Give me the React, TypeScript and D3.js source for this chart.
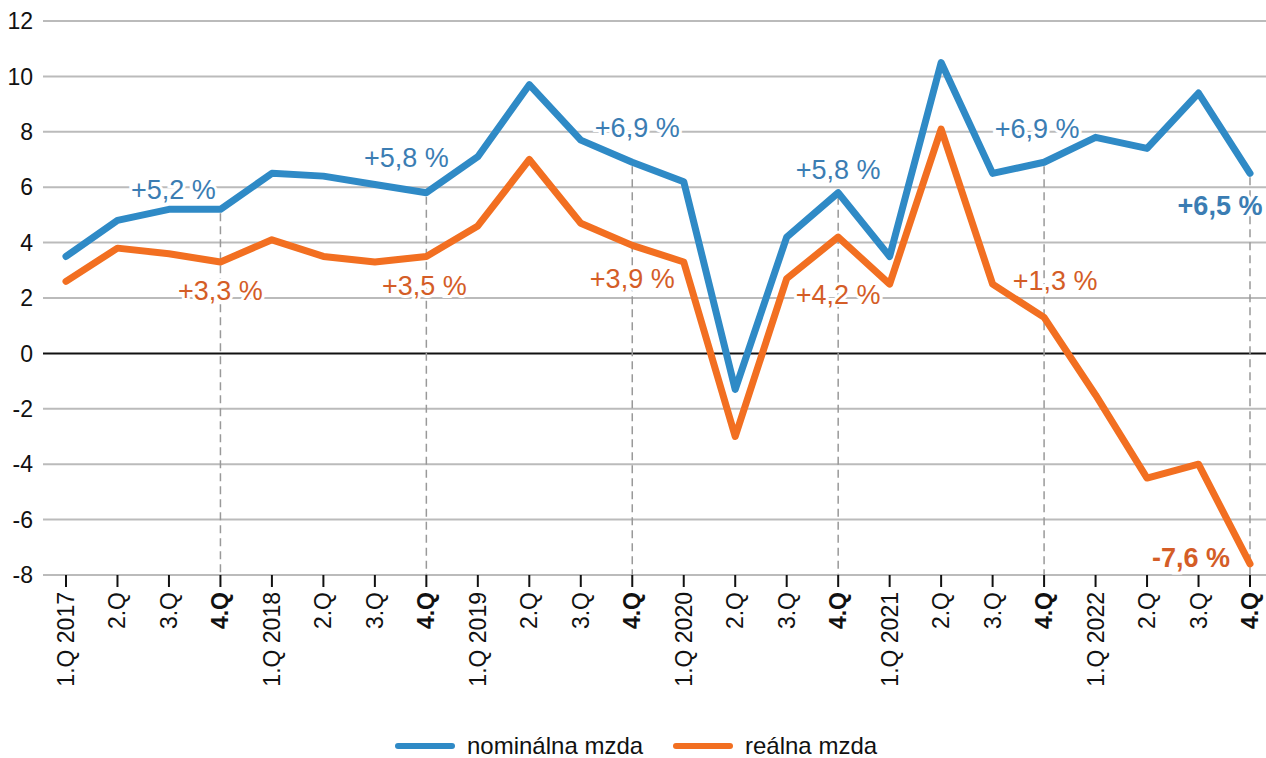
import React from 'react';
import * as d3 from 'd3';

// Quarters 1.Q 2017 .. 4.Q 2022
const quarters = [
  '1.Q 2017', '2.Q', '3.Q', '4.Q',
  '1.Q 2018', '2.Q', '3.Q', '4.Q',
  '1.Q 2019', '2.Q', '3.Q', '4.Q',
  '1.Q 2020', '2.Q', '3.Q', '4.Q',
  '1.Q 2021', '2.Q', '3.Q', '4.Q',
  '1.Q 2022', '2.Q', '3.Q', '4.Q',
];

const nominal = [
  3.5, 4.8, 5.2, 5.2,
  6.5, 6.4, 6.1, 5.8,
  7.1, 9.7, 7.7, 6.9,
  6.2, -1.3, 4.2, 5.8,
  3.5, 10.5, 6.5, 6.9,
  7.8, 7.4, 9.4, 6.5,
];

const real = [
  2.6, 3.8, 3.6, 3.3,
  4.1, 3.5, 3.3, 3.5,
  4.6, 7.0, 4.7, 3.9,
  3.3, -3.0, 2.7, 4.2,
  2.5, 8.1, 2.5, 1.3,
  -1.5, -4.5, -4.0, -7.6,
];

const yTicks = [12, 10, 8, 6, 4, 2, 0, -2, -4, -6, -8];

const seriesNames = ['nominálna mzda', 'reálna mzda'];

// annotation: series index, quarter index, text
const annotations = [
  { s: 0, i: 3, text: '+5,2 %' },
  { s: 1, i: 3, text: '+3,3 %' },
  { s: 0, i: 7, text: '+5,8 %' },
  { s: 1, i: 7, text: '+3,5 %' },
  { s: 0, i: 11, text: '+6,9 %' },
  { s: 1, i: 11, text: '+3,9 %' },
  { s: 0, i: 15, text: '+5,8 %' },
  { s: 1, i: 15, text: '+4,2 %' },
  { s: 0, i: 19, text: '+6,9 %' },
  { s: 1, i: 19, text: '+1,3 %' },
  { s: 0, i: 23, text: '+6,5 %' },
  { s: 1, i: 23, text: '-7,6 %' },
];

// label placement offsets (px) relative to the data point
const labelOffsets = [
  [-47, -20], [0, 28], [-20, -35], [-2, 29], [5, -35], [0, 33],
  [0, -23], [0, 57], [-7, -34], [11, -37], [-30, 32], [-59, -7],
];

const W = 1266;
const H = 758;
const BLUE = '#2f8ac6';
const ORANGE = '#f26f21';
const BLUE_TXT = '#3b7db3';
const ORANGE_TXT = '#d45d27';
const FONT = '"Liberation Sans", Arial, sans-serif';

export default function App() {
  const x = d3.scalePoint<number>().domain(d3.range(quarters.length)).range([66, 1250]);
  const y = d3.scaleLinear().domain([-8, 12]).range([575, 21]);
  const line = d3.line<number>().x((_, i) => x(i)!).y((d) => y(d));
  const series = [nominal, real];
  const colors = [BLUE, ORANGE];
  const txtColors = [BLUE_TXT, ORANGE_TXT];

  return (
    <svg width={W} height={H} style={{ display: 'block', position: 'absolute', left: 0, top: 0 }} fontFamily={FONT}>
      <rect width={W} height={H} fill="#fff" />
      {yTicks.map((t) => (
        <g key={t}>
          <line x1={43} x2={W} y1={y(t)} y2={y(t)} stroke={t === 0 ? '#111' : '#bbb'} strokeWidth={2} />
          <text x={33} y={y(t)} dy="0.36em" textAnchor="end" fontSize={23} fill="#111">{t}</text>
        </g>
      ))}
      {quarters.map((q, i) =>
        q === '4.Q' ? (
          <line key={'d' + i} x1={x(i)} x2={x(i)} y1={y(nominal[i]) + 4} y2={y(-8)} stroke="#999" strokeWidth={1.5} strokeDasharray="8,5" />
        ) : null
      )}
      {quarters.map((q, i) => (
        <g key={'t' + i}>
          <line x1={x(i)} x2={x(i)} y1={y(-8)} y2={y(-8) + 12} stroke="#111" strokeWidth={2} />
          <text
            transform={`translate(${x(i)! + 8},${y(-8) + 17}) rotate(-90)`}
            textAnchor="end"
            fontSize={23}
            fontWeight={q === '4.Q' ? 'bold' : 'normal'}
            fill="#111"
          >
            {q}
          </text>
        </g>
      ))}
      {series.map((s, k) => (
        <path key={'l' + k} d={line(s)!} fill="none" stroke={colors[k]} strokeWidth={7} strokeLinejoin="round" strokeLinecap="round" />
      ))}
      {annotations.map((a, j) => {
        const bold = a.i === quarters.length - 1;
        return (
          <text
            key={'a' + j}
            x={x(a.i)! + labelOffsets[j][0]}
            y={y(series[a.s][a.i]) + labelOffsets[j][1]}
            dy="0.36em"
            textAnchor="middle"
            fontSize={27}
            fontWeight={bold ? 'bold' : 'normal'}
            fill={txtColors[a.s]}
            stroke="#fff"
            strokeWidth={6}
            paintOrder="stroke"
          >
            {a.text}
          </text>
        );
      })}
      {seriesNames.map((n, k) => (
        <g key={'lg' + k} transform={`translate(${398 + k * 278},746)`}>
          <line x1={0} x2={54} y1={0} y2={0} stroke={colors[k]} strokeWidth={6} strokeLinecap="round" />
          <text x={69} y={0} dy="0.35em" fontSize={24} fill="#111">{n}</text>
        </g>
      ))}
    </svg>
  );
}
